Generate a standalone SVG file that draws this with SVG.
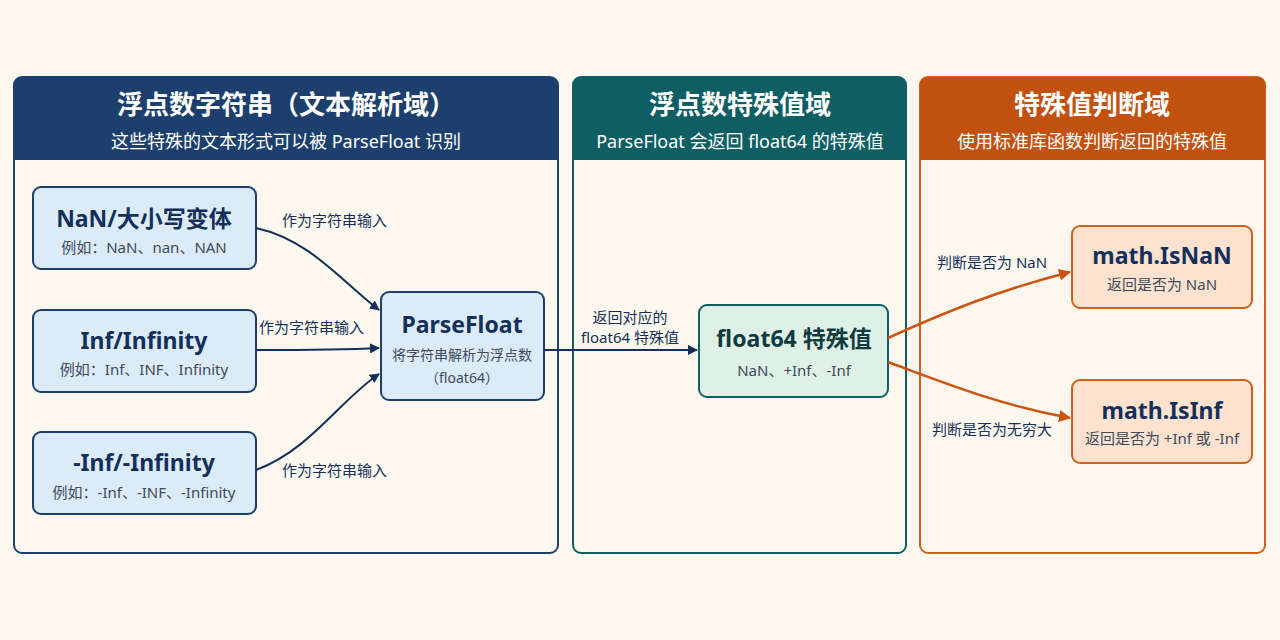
<svg xmlns="http://www.w3.org/2000/svg" width="1280" height="640" viewBox="0 0 1280 640">
<style>
text{font-family:"Noto Sans","Noto Sans CJK SC",sans-serif}
.ht{font-size:26px;font-weight:bold;fill:#fff;text-anchor:middle}
.hs{font-size:18px;fill:#fff;text-anchor:middle}
.nt{font-size:23px;font-weight:bold;fill:#14305a;text-anchor:middle}
.ns{font-size:15px;fill:#3c4a5c;text-anchor:middle}
.lb{font-size:15px;fill:#14305a}
.bn{fill:#dcebf8;stroke:#1c3f6e;stroke-width:2}
.gn{fill:#dff0e6;stroke:#0f5e63;stroke-width:2}
.on{fill:#fde3cf;stroke:#d0601a;stroke-width:2}
.cb{fill:none;stroke:#14305a;stroke-width:2}
.co{fill:none;stroke:#cc5410;stroke-width:2.5}
</style>
<defs>
<marker id="ab" markerWidth="10" markerHeight="10" refX="9" refY="5" orient="auto" markerUnits="userSpaceOnUse"><path d="M0,0L10,5L0,10z" fill="#14305a"/></marker>
<marker id="ao" markerWidth="12" markerHeight="12" refX="11" refY="6" orient="auto" markerUnits="userSpaceOnUse"><path d="M0,0L12,6L0,12z" fill="#cc5410"/></marker>
</defs>
<rect width="1280" height="640" fill="#fcf8ef"/>
<g id="panel1">
<rect x="14" y="77" width="544" height="476" rx="8" fill="#fcf8ef" stroke="#1c3f6e" stroke-width="2"/>
<path d="M14,160V85a8,8 0 0 1 8,-8H550a8,8 0 0 1 8,8V160z" fill="#1c3f6e"/>
<text class="ht" x="286" y="114">浮点数字符串（文本解析域）</text>
<text class="hs" x="286" y="148">这些特殊的文本形式可以被 ParseFloat 识别</text>
</g>
<g id="panel2">
<rect x="573" y="77" width="333" height="476" rx="8" fill="#fcf8ef" stroke="#0f5e63" stroke-width="2"/>
<path d="M573,160V85a8,8 0 0 1 8,-8H898a8,8 0 0 1 8,8V160z" fill="#0f5e63"/>
<text class="ht" x="740" y="114">浮点数特殊值域</text>
<text class="hs" x="740" y="148">ParseFloat 会返回 float64 的特殊值</text>
</g>
<g id="panel3">
<rect x="920" y="77" width="345" height="476" rx="8" fill="#fcf8ef" stroke="#d0601a" stroke-width="2"/>
<path d="M920,160V85a8,8 0 0 1 8,-8H1257a8,8 0 0 1 8,8V160z" fill="#c2500f"/>
<text class="ht" x="1092" y="114">特殊值判断域</text>
<text class="hs" x="1092" y="148">使用标准库函数判断返回的特殊值</text>
</g>
<g id="nan"><rect class="bn" x="33" y="187" width="223" height="82" rx="8"/><text class="nt" x="144" y="227">NaN/大小写变体</text><text class="ns" x="144" y="253">例如：NaN、nan、NAN</text></g>
<g id="inf"><rect class="bn" x="33" y="310" width="223" height="82" rx="8"/><text class="nt" x="144" y="349">Inf/Infinity</text><text class="ns" x="144" y="375">例如：Inf、INF、Infinity</text></g>
<g id="ninf"><rect class="bn" x="33" y="432" width="223" height="82" rx="8"/><text class="nt" x="144" y="471">-Inf/-Infinity</text><text class="ns" x="144" y="498">例如：-Inf、-INF、-Infinity</text></g>
<g id="parse"><rect class="bn" x="381" y="292" width="163" height="108" rx="8"/><text class="nt" x="462" y="333">ParseFloat</text><text class="ns" x="462" y="360" style="font-size:14px">将字符串解析为浮点数</text><text class="ns" x="462" y="383" style="font-size:14px">（float64）</text></g>
<g id="f64"><rect class="gn" x="699" y="305" width="189" height="92" rx="8"/><text class="nt" x="794" y="347" style="fill:#0d3b3e">float64 特殊值</text><text class="ns" x="794" y="376">NaN、+Inf、-Inf</text></g>
<g id="isnan"><rect class="on" x="1072" y="226" width="180" height="82" rx="8"/><text class="nt" x="1162" y="264">math.IsNaN</text><text class="ns" x="1162" y="290">返回是否为 NaN</text></g>
<g id="isinf"><rect class="on" x="1072" y="380" width="180" height="83" rx="8"/><text class="nt" x="1162" y="419">math.IsInf</text><text class="ns" x="1162" y="444">返回是否为 +Inf 或 -Inf</text></g>
<g id="connectors">
<path class="cb" d="M256,228C310,240 340,280 379,310" marker-end="url(#ab)"/>
<path class="cb" d="M256,350C300,350 340,350 379,348" marker-end="url(#ab)"/>
<path class="cb" d="M256,470C310,450 340,400 379,374" marker-end="url(#ab)"/>
<path class="cb" d="M544,350H697" marker-end="url(#ab)"/>
<path class="co" d="M888,338C950,310 1000,290 1070,272" marker-end="url(#ao)"/>
<path class="co" d="M888,362C950,385 1000,405 1070,418" marker-end="url(#ao)"/>
<text class="lb" x="282" y="226">作为字符串输入</text>
<text class="lb" x="259" y="333">作为字符串输入</text>
<text class="lb" x="282" y="476">作为字符串输入</text>
<text class="lb" x="630" y="323" text-anchor="middle">返回对应的</text>
<text class="lb" x="630" y="343" text-anchor="middle">float64 特殊值</text>
<text class="lb" x="937" y="268">判断是否为 NaN</text>
<text class="lb" x="932" y="435">判断是否为无穷大</text>
</g>
</svg>
